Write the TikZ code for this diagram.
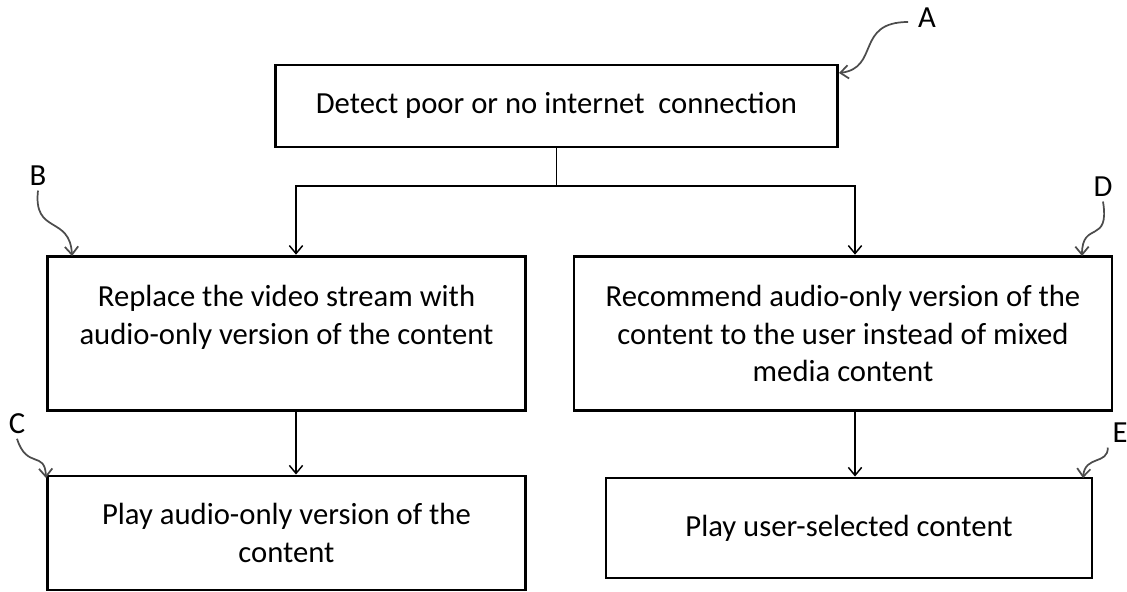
\documentclass[tikz,border=0pt]{standalone}
\usepackage{fontspec}
\setmainfont{Carlito}
\usetikzlibrary{arrows.meta,calc}

\begin{document}
\begin{tikzpicture}[x=0.75pt,y=-0.75pt,
    box/.style={draw,line width=2.2pt,align=center,font=\fontsize{23}{28}\selectfont},
    flow/.style={line width=1.1pt,-{Straight Barb[length=6pt,width=10pt]}},
    curl/.style={draw=black!70,line width=1.3pt,-{Straight Barb[length=6pt,width=10pt]}},
    tag/.style={font=\fontsize{23}{28}\selectfont}]
    \useasboundingbox (0,0) rectangle (1127,592);
    % boxes
    \node[box,minimum width=422pt,minimum height=61.5pt] (detect) at (556.5,106) {Detect poor or no internet\ \ connection\rule[-4pt]{0pt}{0pt}};
    \node[box,minimum width=359pt,minimum height=116pt] (replace) at (286.5,333.5) {Replace the video stream with\\audio-only version of the content\\~};
    \node[box,minimum width=403.5pt,minimum height=116pt] (recommend) at (843,333.5) {Recommend audio-only version of the\\content to the user instead of mixed\\media content};
    \node[box,minimum width=359pt,minimum height=85.5pt] (playaudio) at (286.5,533) {Play audio-only version of the\\content};
    \node[box,minimum width=364.5pt,minimum height=75pt] (playuser) at (849,528) {Play user-selected content};
    % flow
    \coordinate (split) at (556.5,186);
    \coordinate (leftlane) at (296,0);
    \coordinate (rightlane) at (855,0);
    \draw[flow] (detect.south) -- (split) -| (replace.north -| leftlane);
    \draw[flow] (split) -| (recommend.north -| rightlane);
    \draw[flow] (replace.south -| leftlane) -- (playaudio.north -| leftlane);
    \draw[flow] (recommend.south -| rightlane) -- (playuser.north -| rightlane);
    % letters
    \node[tag] (labA) at (927,18) {A};
    \node[tag] (labB) at (38,176) {B};
    \node[tag] (labC) at (17,424) {C};
    \node[tag] (labD) at (1103,187) {D};
    \node[tag] (labE) at (1120,433) {E};
    \coordinate (tipA) at (839,73);
    \coordinate (tipB) at (72,256);
    \coordinate (tipC) at (46,478);
    \coordinate (tipD) at (1082,256);
    \coordinate (tipE) at (1083,478);
    \draw[curl] ([xshift=-4pt,yshift=-3pt]labA.west) .. controls (855,22) and (880,68) .. (tipA);
    \draw[curl] (labB.south) .. controls (33,235) and (70,215) .. (tipB);
    \draw[curl] (labC.south) .. controls (27,470) and (45,450) .. (tipC);
    \draw[curl] (labD.south) .. controls (1110,245) and (1082,220) .. (tipD);
    \draw[curl] (labE.south west) .. controls (1108,465) and (1085,455) .. (tipE);
\end{tikzpicture}
\end{document}
